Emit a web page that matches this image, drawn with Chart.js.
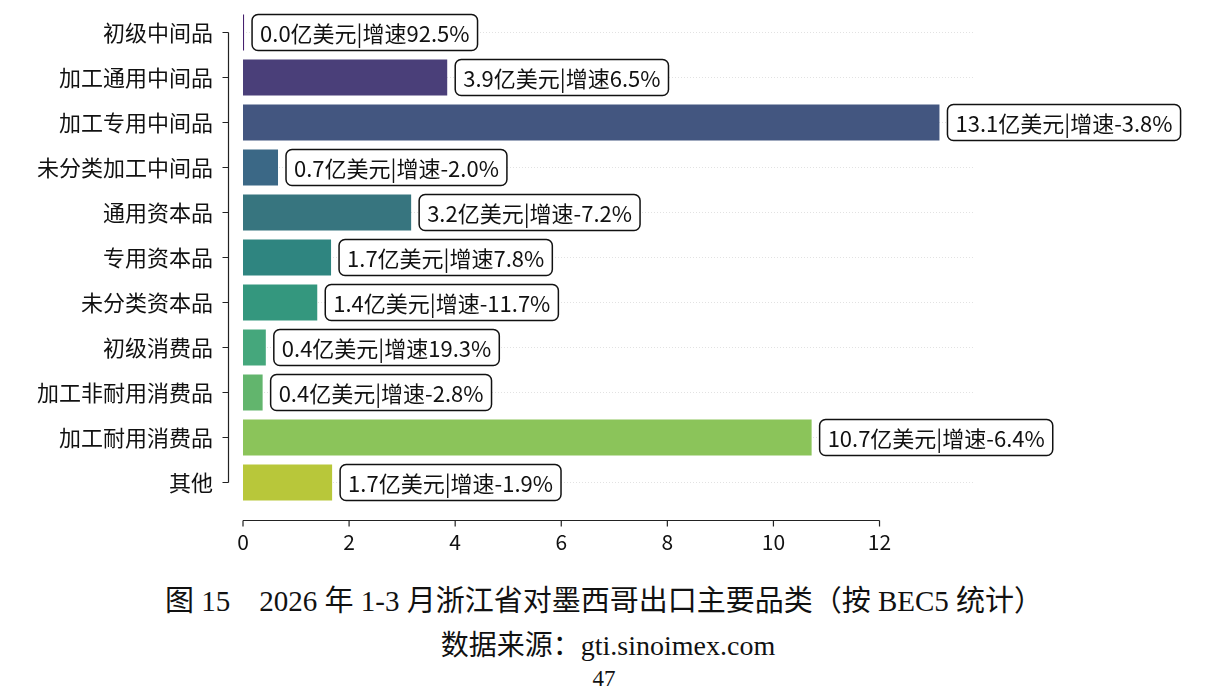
<!DOCTYPE html>
<html>
<head>
<meta charset="utf-8">
<script src="https://cdn.jsdelivr.net/npm/chart.js@4.4.1/dist/chart.umd.min.js"></script>
<style>
  body { margin: 0; background: #fff; width: 1208px; height: 694px; overflow: hidden; position: relative; }
  #wrap { position: absolute; left: 0; top: 0; width: 1208px; height: 570px; }
  .cap { position: absolute; left: 0; width: 1208px; text-align: center; color: #111;
         font-family: "Liberation Serif", "Noto Sans CJK SC", serif; white-space: pre; }
</style>
</head>
<body>
<div id="wrap"><canvas id="myChart"></canvas></div>
<div class="cap" style="top:577px;font-size:29px">图 15　2026 年 1-3 月浙江省对墨西哥出口主要品类（按 BEC5 统计）</div>
<div class="cap" style="top:623px;font-size:28px;left:4px">数据来源：gti.sinoimex.com</div>
<div class="cap" style="top:666px;font-size:23px">47</div>
<script>
// data (亿美元, growth in %)
var categories = ['初级中间品', '加工通用中间品', '加工专用中间品', '未分类加工中间品', '通用资本品',
  '专用资本品', '未分类资本品', '初级消费品', '加工非耐用消费品', '加工耐用消费品', '其他'];
var values = [0.02, 3.85, 13.13, 0.66, 3.17, 1.66, 1.40, 0.43, 0.37, 10.72, 1.68];
var growth = [92.5, 6.5, -3.8, -2.0, -7.2, 7.8, -11.7, 19.3, -2.8, -6.4, -1.9];
var barColors = ['#45206e', '#4a3f79', '#435680', '#3b6886', '#37757f', '#2f8580',
  '#34977e', '#45a77c', '#62b56d', '#8bc45a', '#b8c73a'];
var xTicks = [0, 2, 4, 6, 8, 10, 12];

var FONT = '"Noto Sans CJK SC", "Noto Sans", sans-serif';

// trimmed, offset spines like the seaborn original
var spines = {
  id: 'spines',
  afterDraw: function (chart) {
    var c = chart.ctx, xs = chart.scales.x, ys = chart.scales.y;
    var ax = Math.round(chart.chartArea.left - 15) + 0.5;
    var ay = Math.round(chart.chartArea.bottom + 15) + 0.5;
    c.save();
    c.strokeStyle = '#222';
    c.lineWidth = 1.2;
    c.beginPath();
    c.moveTo(ax, ys.getPixelForValue(0));
    c.lineTo(ax, ys.getPixelForValue(categories.length - 1));
    categories.forEach(function (_, i) {
      var y = ys.getPixelForValue(i);
      c.moveTo(ax - 6, y); c.lineTo(ax, y);
    });
    c.moveTo(xs.getPixelForValue(xTicks[0]), ay);
    c.lineTo(xs.getPixelForValue(xTicks[xTicks.length - 1]), ay);
    xTicks.forEach(function (v) {
      var x = xs.getPixelForValue(v);
      c.moveTo(x, ay); c.lineTo(x, ay + 6);
    });
    c.stroke();
    c.restore();
  }
};

// boxed value labels at the end of each bar
var boxLabels = {
  id: 'boxLabels',
  afterDatasetsDraw: function (chart) {
    var c = chart.ctx;
    var meta = chart.getDatasetMeta(0);
    c.save();
    c.font = '22px ' + FONT;
    c.textBaseline = 'middle';
    meta.data.forEach(function (bar, i) {
      var txt = values[i].toFixed(1) + '亿美元|增速' + growth[i].toFixed(1) + '%';
      var w = c.measureText(txt).width + 16;
      var x = bar.x + 8, y = bar.y;
      c.beginPath();
      c.roundRect(x, y - 18, w, 36, 6);
      c.fillStyle = '#fff';
      c.fill();
      c.lineWidth = 1.5;
      c.strokeStyle = '#111';
      c.stroke();
      c.fillStyle = '#111';
      c.fillText(txt, x + 8, y + 1);
    });
    c.restore();
  }
};

var ctx = document.getElementById('myChart').getContext('2d');

var myChart = new Chart(ctx, {
  type: 'bar',
  data: {
    labels: categories,
    datasets: [{
      data: values,
      backgroundColor: barColors,
      borderWidth: 0,
      barPercentage: 0.8,
      categoryPercentage: 1.0
    }]
  },
  options: {
    indexAxis: 'y',
    responsive: true,
    maintainAspectRatio: false,
    animation: false,
    layout: { padding: { left: 0, right: 233, top: 10, bottom: 0 } },
    plugins: { legend: { display: false }, tooltip: { enabled: false } },
    scales: {
      x: {
        min: 0,
        max: 13.8,
        afterBuildTicks: function (s) { s.ticks = xTicks.map(function (v) { return { value: v }; }); },
        afterFit: function (s) { s.height = 65; s.paddingLeft = 0; s.paddingRight = 0; },
        grid: { display: false, drawTicks: false },
        border: { display: false },
        ticks: { padding: 24, color: '#111', font: { size: 21, family: FONT } }
      },
      y: {
        afterFit: function (s) { s.width = 243; s.paddingTop = 0; s.paddingBottom = 0; },
        grid: { offset: false, drawTicks: false, color: '#e2e2e2', lineWidth: 1 },
        border: { display: false, dash: [1, 2] },
        ticks: { padding: 30, color: '#111', font: { size: 22, family: FONT } }
      }
    }
  },
  plugins: [spines, boxLabels]
});
</script>
</body>
</html>
